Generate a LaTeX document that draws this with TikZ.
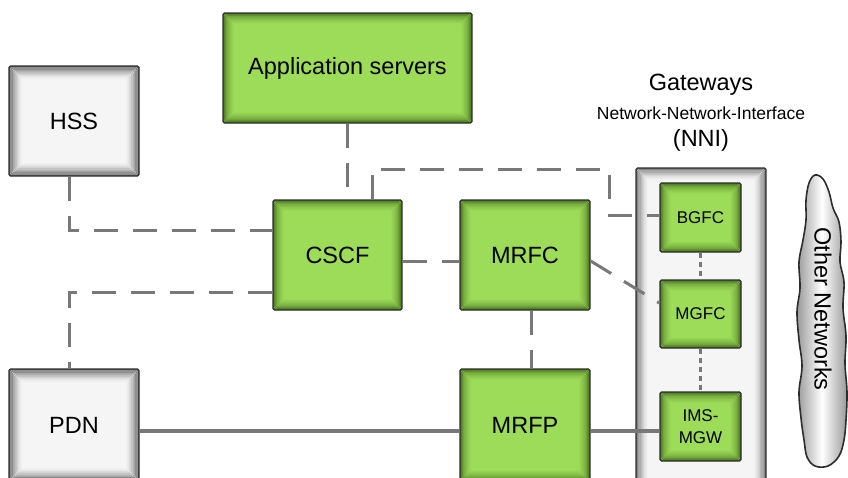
\documentclass[tikz,border=0pt]{standalone}
\usepackage{fontspec}
\setmainfont{Liberation Sans}
\usetikzlibrary{calc}

\definecolor{greencore}{RGB}{156,220,88}
\definecolor{greenedge}{RGB}{52,88,18}
\definecolor{greycore}{RGB}{245,245,245}
\definecolor{greyedge}{RGB}{70,70,70}
\definecolor{rimline}{RGB}{45,45,45}
\definecolor{wire}{RGB}{120,120,120}

% soft inner shadow along the border of a node: colour, ring width, strength
\newcommand\edgeglow[3]{%
  \foreach \d in {0,...,9}{%
    \pgfmathsetmacro\op{#3*(1-\d/10)^1.6}%
    \pgfmathsetlengthmacro\off{(\d+0.5)*#2}%
    \draw[draw=#1, draw opacity=\op, line width=#2]
      ([xshift=\off, yshift=-\off]path picture bounding box.north west)
      rectangle ([xshift=-\off, yshift=\off]path picture bounding box.south east);
  }}

\tikzset{
  boxbase/.style={draw=rimline, line width=1.3pt, rounded corners=1.5pt,
    inner sep=0pt, align=center, font=\fontsize{23.5}{27}\selectfont},
  greenbox/.style={boxbase, fill=greencore,
    path picture={\edgeglow{greenedge}{1.1pt}{0.75}}},
  greybox/.style={boxbase, fill=greycore,
    path picture={\edgeglow{greyedge}{1.3pt}{0.8}}},
  smallgreen/.style={greenbox, minimum width=81pt, minimum height=69pt,
    font=\fontsize{17}{22}\selectfont},
  holder/.style={boxbase, fill=greycore,
    path picture={\edgeglow{greyedge}{1.2pt}{0.7}}},
  dashline/.style={draw=wire, line width=3pt, dash pattern=on 24pt off 15pt},
  dotline/.style={draw=wire, line width=3pt, dash pattern=on 5pt off 4pt},
  solidline/.style={draw=wire, line width=4pt},
}

\begin{document}
\begin{tikzpicture}[x=1pt, y=-1pt]
\useasboundingbox (0,0) rectangle (848,477);
\clip (0,0) rectangle (848,477);

% core network elements
\node[greenbox, minimum width=249pt, minimum height=110pt] (app) at (347.5,68) {Application servers};
\node[greybox, minimum width=130pt, minimum height=110pt] (hss) at (74,121) {HSS};
\node[greenbox, minimum width=129pt, minimum height=110pt] (cscf) at (337.5,255) {CSCF};
\node[greenbox, minimum width=130pt, minimum height=110pt] (mrfc) at (525,255) {MRFC};
\node[greenbox, minimum width=130pt, minimum height=112pt] (mrfp) at (525,425) {MRFP};
\node[greybox, minimum width=130pt, minimum height=112pt] (pdn) at (74,425) {PDN};

% gateway column
\node[holder, minimum width=130pt, minimum height=330pt] (gw) at (701,333) {};
\node[font=\fontsize{23.5}{27}\selectfont] (gwtitle) at (701,85) {Gateways};
\node[font=\fontsize{17.5}{20}\selectfont] (gwnni) at (701,113) {Network-Network-Interface};
\node[font=\fontsize{23.5}{27}\selectfont] (gwabbr) at (701,140) {(NNI)};
\node[smallgreen] (bgfc) at (700.5,217.5) {BGFC};
\node[smallgreen, minimum height=68pt] (mgfc) at (700.5,314) {MGFC};
\node[smallgreen] (mgw) at (700.5,426.5) {IMS-\\MGW};

% other networks cloud
\path[left color=gray!80, right color=gray!80, middle color=white]
  plot[smooth cycle, tension=0.6] coordinates {
    (815,175) (823,179) (829,192) (833,208) (839,222) (841,242) (840,262)
    (844,282) (843,308) (846,336) (845,364) (847,392) (846,420) (844,440)
    (839,456) (828,466) (815,466) (807,457) (804,440) (801,418) (799,392)
    (802,366) (799,340) (797,312) (800,288) (799,262) (803,240) (806,220)
    (806,200) (809,183)};
\draw[draw=rimline, line width=1.6pt]
  plot[smooth cycle, tension=0.6] coordinates {
    (815,175) (823,179) (829,192) (833,208) (839,222) (841,242) (840,262)
    (844,282) (843,308) (846,336) (845,364) (847,392) (846,420) (844,440)
    (839,456) (828,466) (815,466) (807,457) (804,440) (801,418) (799,392)
    (802,366) (799,340) (797,312) (800,288) (799,262) (803,240) (806,220)
    (806,200) (809,183)};
\node[rotate=-90, font=\fontsize{23.5}{27}\selectfont] (other) at (823,309) {Other Networks};

% signalling links
\coordinate (bend) at (609,169);
\draw[dashline] ([xshift=-5pt]hss.south) |- ([yshift=25pt]cscf.west);
\draw[dashline] (app.south) -- (app.south |- cscf.north);
\draw[dashline] ([xshift=34.5pt]cscf.north) |- (bend) |- ([yshift=2.5pt]bgfc.west);
\draw[dashline] ([yshift=-6pt]cscf.east) -- ([yshift=-6pt]mrfc.west);
\draw[dashline] ([yshift=-37pt]cscf.west) -| ([xshift=-5pt]pdn.north);
\draw[dashline] ([yshift=-6pt]mrfc.east) -- ([yshift=11pt]mgfc.west);
\draw[dashline] ([xshift=6pt]mrfc.south) -- ([xshift=6pt]mrfp.north);
\draw[dotline] (bgfc.south) -- (mgfc.north);
\draw[dotline] (mgfc.south) -- (mgw.north);

% media links
\coordinate (mrfpout) at ([yshift=-6pt]mrfp.east);
\draw[solidline] ([yshift=-6pt]pdn.east) -- ([yshift=-6pt]mrfp.west);
\draw[solidline] (mrfpout) -- (mrfpout -| mgw.west);
\end{tikzpicture}
\end{document}
